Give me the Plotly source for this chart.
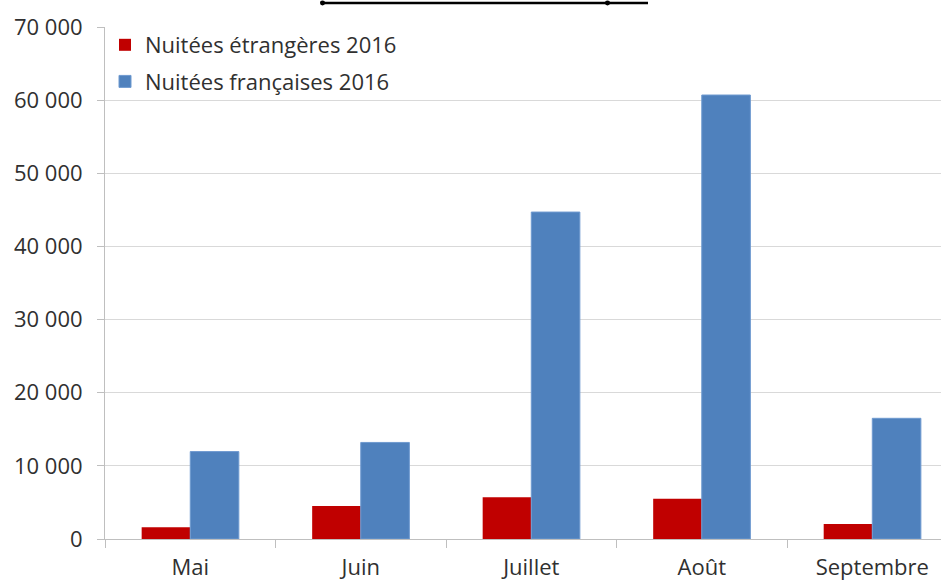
import plotly.graph_objects as go

months = ["Mai", "Juin", "Juillet", "Août", "Septembre"]
etrangeres = [1600, 4500, 5700, 5500, 2050]
francaises = [11950, 13200, 44700, 60700, 16500]
series_names = ["Nuitées étrangères 2016", "Nuitées françaises 2016"]
y_ticks = [0, 10000, 20000, 30000, 40000, 50000, 60000, 70000]

FONT = "Open Sans"
TXT = "#303030"

fig = go.Figure()
fig.add_trace(go.Bar(x=months, y=etrangeres, name=series_names[0], legendgroup="a",
                     marker=dict(color="#C00000", line=dict(width=0))))
fig.add_trace(go.Bar(x=months, y=francaises, name=series_names[1], legendgroup="b",
                     marker=dict(color="#4F81BD", line=dict(color="#6F9AD0", width=1))))

def px_x(p):
    return (p - 105) / 836

def px_y(p):
    return 1 + (27 - p) / 514

line_y = px_y(3)
fig.update_layout(
    width=941, height=581,
    margin=dict(l=105, r=0, t=27, b=40),
    paper_bgcolor="white", plot_bgcolor="white",
    barmode="group", bargap=0.43, bargroupgap=0,
    separators=", ",
    font=dict(family=FONT, size=22, color=TXT),
    showlegend=True,
    legend=dict(x=0.0, y=px_y(24), xanchor="left", yanchor="top",
                bgcolor="rgba(0,0,0,0)", font=dict(family=FONT, size=22, color=TXT),
                traceorder="grouped", tracegroupgap=5, itemwidth=30),
    xaxis=dict(range=[-0.5, 4.403], tickson="boundaries", ticks="outside",
               ticklen=8, tickcolor="#BFBFBF", showline=True, linecolor="#BFBFBF",
               linewidth=1, showgrid=False, ticklabelstandoff=9,
               tickfont=dict(family=FONT, size=22, color=TXT)),
    yaxis=dict(range=[0, 70000], tickvals=y_ticks, tickformat=",d", ticks="outside",
               ticklen=7, tickcolor="#BFBFBF", showline=True, linecolor="#BFBFBF",
               linewidth=1, showgrid=True, gridcolor="#D9D9D9", gridwidth=1,
               zeroline=False, ticklabelstandoff=10,
               tickfont=dict(family=FONT, size=22, color=TXT)),
    shapes=[
        dict(type="line", xref="paper", yref="paper", x0=px_x(322), x1=px_x(648),
             y0=line_y, y1=line_y, line=dict(color="black", width=2.5)),
        dict(type="circle", xref="paper", yref="paper", x0=px_x(320), x1=px_x(325),
             y0=px_y(0.5), y1=px_y(5.5), fillcolor="black", line=dict(width=0)),
        dict(type="circle", xref="paper", yref="paper", x0=px_x(605), x1=px_x(610),
             y0=px_y(0.5), y1=px_y(5.5), fillcolor="black", line=dict(width=0)),
    ],
)

fig.write_html("out.html", config={"displayModeBar": False},
               post_script="document.body.style.margin='0';")
